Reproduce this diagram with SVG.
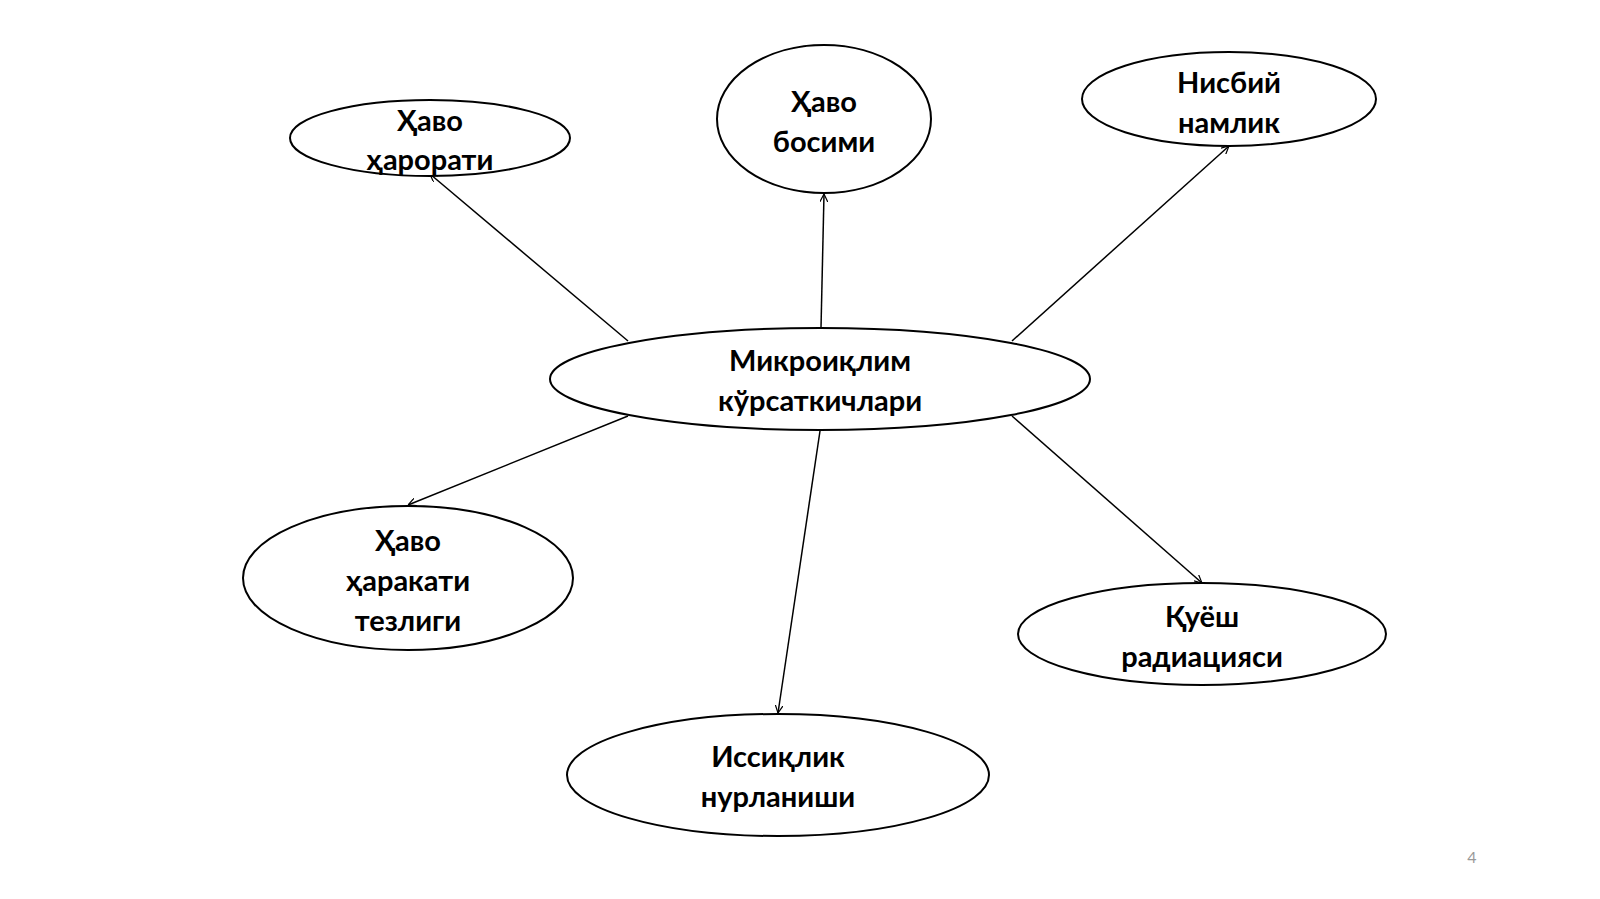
<svg xmlns="http://www.w3.org/2000/svg" width="1600" height="899" viewBox="0 0 1600 899">
<style>
.n{fill:#fff;stroke:#000;stroke-width:2}
.t{font-family:Lato,"Liberation Sans",sans-serif;font-weight:bold;font-size:29px;text-anchor:middle;fill:#000}
.c{stroke:#000;stroke-width:1.5;fill:none;marker-end:url(#a)}
</style>
<defs><marker id="a" viewBox="0 0 10 10" refX="10" refY="5" markerWidth="8" markerHeight="8" orient="auto" markerUnits="userSpaceOnUse"><path d="M0,0L10,5L0,10" fill="none" stroke="#000" stroke-width="1.5"/></marker></defs>
<rect width="1600" height="899" fill="#fff"/>
<g id="connectors">
<line class="c" x1="628" y1="341" x2="430" y2="174"/>
<line class="c" x1="821" y1="328" x2="824" y2="194"/>
<line class="c" x1="1012" y1="341" x2="1229" y2="146"/>
<line class="c" x1="628" y1="416" x2="408" y2="505"/>
<line class="c" x1="820" y1="431" x2="778" y2="713"/>
<line class="c" x1="1012" y1="416" x2="1202" y2="583"/>
</g>
<g id="center"><ellipse class="n" cx="820" cy="379" rx="270" ry="51"/><text class="t" x="820" y="371">Микроиқлим</text><text class="t" x="820" y="411">кўрсаткичлари</text></g>
<g id="harorat"><ellipse class="n" cx="430" cy="138" rx="140" ry="38"/><text class="t" x="430" y="131">Ҳаво</text><text class="t" x="430" y="170">ҳарорати</text></g>
<g id="bosim"><ellipse class="n" cx="824" cy="119" rx="107" ry="74"/><text class="t" x="824" y="112">Ҳаво</text><text class="t" x="824" y="152">босими</text></g>
<g id="namlik"><ellipse class="n" cx="1229" cy="99" rx="147" ry="47"/><text class="t" x="1229" y="93">Нисбий</text><text class="t" x="1229" y="133">намлик</text></g>
<g id="tezlik"><ellipse class="n" cx="408" cy="578" rx="165" ry="72"/><text class="t" x="408" y="551">Ҳаво</text><text class="t" x="408" y="591">ҳаракати</text><text class="t" x="408" y="631">тезлиги</text></g>
<g id="radiatsiya"><ellipse class="n" cx="1202" cy="634" rx="184" ry="51"/><text class="t" x="1202" y="627">Қуёш</text><text class="t" x="1202" y="667">радиацияси</text></g>
<g id="nurlanish"><ellipse class="n" cx="778" cy="775" rx="211" ry="61"/><text class="t" x="778" y="767">Иссиқлик</text><text class="t" x="778" y="807">нурланиши</text></g>
<text x="1472" y="863" font-family="Lato,'Liberation Sans',sans-serif" font-size="16" fill="#999" text-anchor="middle">4</text>
</svg>
